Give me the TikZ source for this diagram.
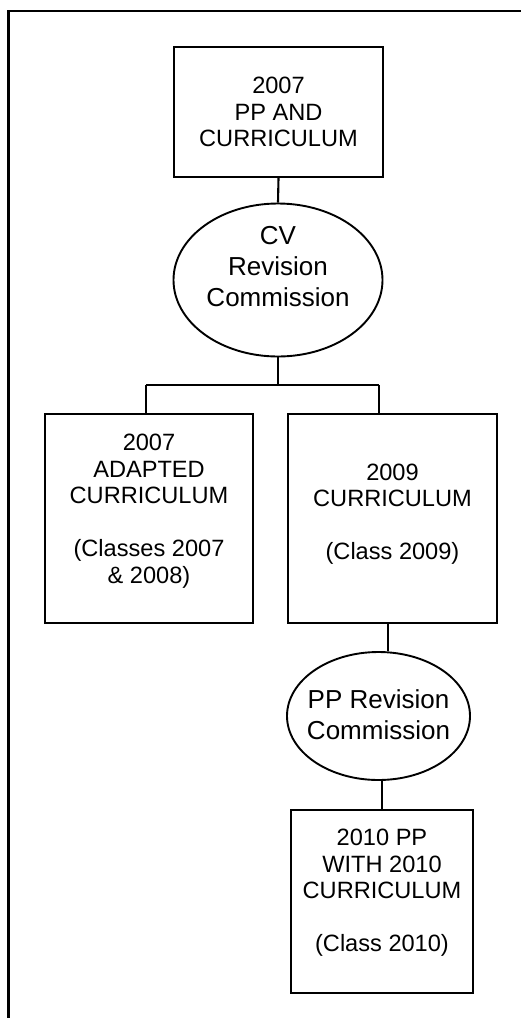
\documentclass[tikz,border=0pt]{standalone}
\usepackage{fontspec}
\setmainfont{Liberation Sans}
\usetikzlibrary{shapes.geometric}
\tikzset{
  boxshape/.style={draw, line width=2.4pt, rectangle, inner sep=0pt},
  ellshape/.style={draw, line width=1.9pt, ellipse, inner sep=0pt},
  boxtxt/.style={align=center, inner sep=0pt, font=\fontsize{23.6}{26.5}\selectfont},
  elltxt/.style={align=center, inner sep=0pt, font=\fontsize{26}{31}\selectfont},
  link/.style={line width=2.1pt},
  frame/.style={line width=2.7pt}
}
\begin{document}
\begin{tikzpicture}[x=1pt,y=-1pt]
\useasboundingbox (0,0) rectangle (521,1018);
% outer frame (left and top edges only)
\coordinate (fbl) at (8.5,1020);
\coordinate (ftl) at (8.5,11);
\coordinate (ftr) at (523,11);
\draw[frame] (fbl) -- (ftl) -- (ftr);

% shapes
\node[boxshape, minimum width=209pt, minimum height=130pt] (b1) at (278.5,112) {};
\node[ellshape, minimum width=209pt, minimum height=153pt] (e1) at (278,280) {};
\node[boxshape, minimum width=208pt, minimum height=209pt] (b2) at (149,518.5) {};
\node[boxshape, minimum width=209pt, minimum height=209pt] (b3) at (392.5,518.5) {};
\node[ellshape, minimum width=183pt, minimum height=128pt] (e2) at (378.5,716) {};
\node[boxshape, minimum width=182pt, minimum height=183pt] (b4) at (382,901.5) {};

% texts
\node[boxtxt] (t1) at (278.5,112) {2007\\PP AND\\CURRICULUM};
\node[elltxt] (t2) at (278,267) {CV\\Revision\\Commission};
\node[boxtxt] (t3) at (149,511) {2007\\ADAPTED\\CURRICULUM\\[26.5pt](Classes 2007\\\& 2008)};
\node[boxtxt] (t4) at (392.5,514) {2009\\CURRICULUM\\[26.5pt](Class 2009)};
\node[elltxt] (t5) at (378.5,714.5) {PP Revision\\Commission};
\node[boxtxt] (t6) at (382,893) {2010 PP\\WITH 2010\\CURRICULUM\\[26.5pt](Class 2010)};

% connectors
\coordinate (jl) at (146,385);
\coordinate (jr) at (379,385);
\draw[link] (b1.south) -- (e1.north);
\draw[link] (e1.south) -- (e1.south |- jl);
\draw[link] (jl) -- (jr);
\draw[link] (jl) -- (jl |- b2.north);
\draw[link] (jr) -- (jr |- b3.north);
\draw[link] ([xshift=-4.5pt]b3.south) -- ([xshift=-4.5pt]b3.south |- e2.north);
\draw[link] (b4.north |- e2.south) -- (b4.north);
\end{tikzpicture}
\end{document}
